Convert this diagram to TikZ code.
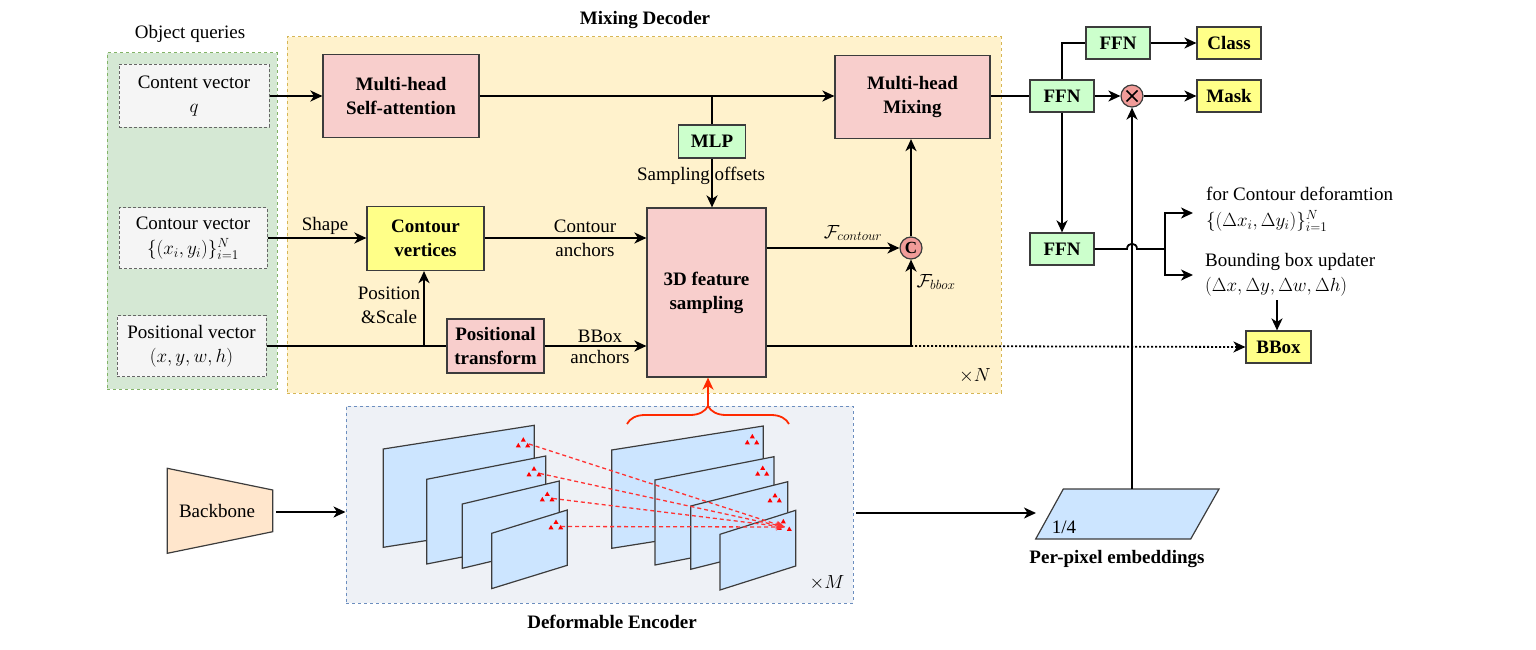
\RequirePackage{fix-cm}
\documentclass[tikz,border=0pt]{standalone}
\usepackage{fontspec}
\setmainfont{Liberation Serif}
\usetikzlibrary{arrows.meta,decorations.pathreplacing,calc}
\definecolor{boxline}{HTML}{3C3C3C}
\definecolor{gfill}{HTML}{D5E8D4}
\definecolor{gline}{HTML}{82B366}
\definecolor{yfill}{HTML}{FFF2CC}
\definecolor{yline}{HTML}{D6B656}
\definecolor{efill}{HTML}{EEF1F6}
\definecolor{bline}{HTML}{6C8EBF}
\definecolor{qfill}{HTML}{F5F5F5}
\definecolor{qline}{HTML}{666666}
\definecolor{pinkfill}{HTML}{F8CECC}
\definecolor{yelfill}{HTML}{FFFF88}
\definecolor{grnfill}{HTML}{CCFFCC}
\definecolor{circfill}{HTML}{F19C99}
\definecolor{mapfill}{HTML}{CCE5FF}
\definecolor{bbfill}{HTML}{FFE6CC}
\definecolor{redc}{HTML}{FF2A00}
\definecolor{reddash}{HTML}{FF3333}
\newcommand\myfs{\fontsize{19}{24}\selectfont}
\newcommand\redtri[2]{\fill[red] (#1,#2) ++(0,-2.8) -- ++(2.5,4.4) -- ++(-5,0) -- cycle;}
\tikzset{
  lbl/.style={font=\myfs, inner sep=0pt, align=center},
  blbl/.style={font=\myfs\bfseries, inner sep=0pt, align=center},
  sbox/.style={draw=boxline, line width=1.2pt, inner sep=0pt, align=center, font=\myfs\bfseries},
  pinkbox/.style={sbox, fill=pinkfill},
  yelbox/.style={sbox, fill=yelfill},
  grnbox/.style={sbox, fill=grnfill},
  qbox/.style={draw=qline, fill=qfill, dash pattern=on 3pt off 2pt, line width=1pt, inner sep=0pt, align=center, font=\myfs},
  panel/.style={line width=1pt, dash pattern=on 3pt off 3pt, inner sep=0pt},
  arr/.style={line width=1.8pt, -{Stealth[length=12pt,width=11pt,inset=3.5pt]}},
  ln/.style={line width=1.8pt},
  fmap/.style={draw=boxline, fill=mapfill, line width=1.2pt},
  rarr/.style={draw=reddash, dash pattern=on 4pt off 3pt, line width=1.3pt, -{Stealth[length=9pt,width=7pt]}},
  pcirc/.style={circle, draw=boxline, fill=circfill, line width=1.2pt, minimum size=22pt, inner sep=0pt},
}
\begin{document}
\begin{tikzpicture}[x=1pt,y=-1pt]
\useasboundingbox (0,0) rectangle (1536,650);
% panels
\node[panel, draw=gline, fill=gfill, minimum width=170pt, minimum height=336pt] (oqp) at (192,221) {};
\node[panel, draw=yline, fill=yfill, minimum width=714pt, minimum height=356pt] (mdp) at (644,215) {};
\node[panel, draw=bline, fill=efill, minimum width=507pt, minimum height=197pt] (enc) at (599.5,504.5) {};
\node[lbl] (oqt) at (190,34) {Object queries};
\node[blbl] (mdt) at (645,20) {Mixing Decoder};
\node[blbl] (enct) at (612,622) {Deformable Encoder};
\node[lbl] (xn) at (975,376) {$\times N$};
\node[lbl] (xm) at (827,583) {$\times M$};
% query vectors
\node[qbox, minimum width=150pt, minimum height=63pt] (content) at (194,96) {Content vector\\$q$};
\node[qbox, minimum width=148pt, minimum height=61pt] (contour) at (193,238) {Contour vector\\[1pt]$\{(x_i,y_i)\}_{i=1}^{N}$};
\node[qbox, minimum width=149pt, minimum height=61pt] (posv) at (191.5,346) {Positional vector\\$(x,y,w,h)$};
% decoder blocks
\node[pinkbox, minimum width=156pt, minimum height=83pt] (mhsa) at (401,96) {Multi-head\\Self-attention};
\node[pinkbox, minimum width=155pt, minimum height=83pt] (mhm) at (912.5,97) {Multi-head\\Mixing};
\node[grnbox, minimum width=67pt, minimum height=33pt] (mlp) at (712,141.5) {MLP};
\node[pinkbox, minimum width=119pt, minimum height=169pt] (fs) at (706.5,292.5) {3D feature\\sampling};
\node[yelbox, minimum width=117pt, minimum height=64pt] (cvert) at (425.5,238.5) {Contour\\vertices};
\node[pinkbox, minimum width=97pt, minimum height=54pt] (pt) at (495.5,346) {Positional\\transform};
\node[pcirc, font=\fontsize{17}{17}\selectfont\bfseries] (cat) at (911,248) {C};
% decoder connectors
\draw[arr] (content.east) -- (content.east -| mhsa.west);
\coordinate (sp) at (712,96);
\draw[arr] (mhsa.east) -- (mhsa.east -| mhm.west);
\draw[ln] (sp) -- (mlp.north);
\draw[arr] (mlp.south) -- (mlp.south |- fs.north);
\node[lbl] (soff) at (701,176) {Sampling offsets};
\draw[arr] (contour.east) -- (contour.east -| cvert.west);
\node[lbl] (shape) at (325,226) {Shape};
\draw[ln] (posv.east) -- (pt.west);
\coordinate (pbr) at (424,346);
\draw[arr] (pbr) -- (pbr |- cvert.south);
\node[lbl] (possc) at (389,305) {Position\\\&Scale};
\draw[arr] (cvert.east |- contour.east) -- (contour.east -| fs.west);
\node[lbl] (ca1) at (585,226) {Contour};
\node[lbl] (ca2) at (585,250) {anchors};
\draw[arr] (pt.east) -- (pt.east -| fs.west);
\node[lbl] (ba1) at (600,336) {BBox};
\node[lbl] (ba2) at (600,357) {anchors};
\draw[arr] (fs.east |- cat.west) -- (cat.west);
\coordinate (fb) at (911,346);
\draw[ln] (fs.east |- fb) -- (fb);
\draw[arr] (fb) -- (cat.south);
\draw[arr] (cat.north) -- (cat.north |- mhm.south);
\node[lbl] (fcl) at (853,233) {$\mathcal{F}_{contour}$};
\node[lbl] (fbl) at (936,282) {$\mathcal{F}_{bbox}$};
% heads
\node[grnbox, minimum width=64pt, minimum height=32pt] (ffn1) at (1062,96) {FFN};
\node[grnbox, minimum width=64pt, minimum height=32pt] (ffnt) at (1118,43) {FFN};
\node[grnbox, minimum width=64pt, minimum height=32pt] (ffn2) at (1062,249) {FFN};
\node[yelbox, minimum width=64pt, minimum height=32pt] (cls) at (1229,43) {Class};
\node[yelbox, minimum width=64pt, minimum height=32pt] (mask) at (1229,96) {Mask};
\node[yelbox, minimum width=65pt, minimum height=32pt] (bbox) at (1278.5,347) {BBox};
\node[pcirc] (mul) at (1132,96) {};
\draw[line width=1.6pt] ($(mul.center)+(-5.5,-5.5)$) -- ($(mul.center)+(5.5,5.5)$);
\draw[line width=1.6pt] ($(mul.center)+(-5.5,5.5)$) -- ($(mul.center)+(5.5,-5.5)$);
\draw[arr, dash pattern=on 2pt off 2pt] (fb) -- (bbox.west);
\draw[ln] (mhm.east |- ffn1.west) -- (ffn1.west);
\draw[ln] (ffn1.north) |- (ffnt.west);
\draw[arr] (ffnt.east) -- (cls.west);
\draw[arr] (ffn1.east) -- (mul.west);
\draw[arr] (mul.east) -- (mask.west);
\draw[arr] (ffn1.south) -- (ffn2.north);
\coordinate (hop1) at (1127,249);
\coordinate (hop2) at (1137,249);
\coordinate (br) at (1165,249);
\coordinate (o1) at (1193,213);
\coordinate (o2) at (1193,275);
\draw[ln] (ffn2.east) -- (hop1) .. controls (1127,242) and (1137,242) .. (hop2) -- (br);
\draw[arr] (br) |- (o1);
\draw[arr] (br) |- (o2);
\node[lbl, anchor=west] (cd1) at (1206,194) {for Contour deforamtion};
\node[lbl, anchor=west] (cd2) at (1206,221) {$\{(\Delta x_i,\Delta y_i)\}_{i=1}^{N}$};
\node[lbl, anchor=west] (bu1) at (1205,262) {Bounding box updater};
\node[lbl, anchor=west] (bu2) at (1205,287) {$(\Delta x,\Delta y,\Delta w,\Delta h)$};
\coordinate (bbu) at (1277,300);
\draw[arr] (bbu) -- (bbu |- bbox.north);
% per-pixel embeddings
\draw[fmap] (1035.7,539) -- (1063.3,489) -- (1219,489) -- (1190.7,539) -- cycle;
\coordinate (pptop) at (1132,489);
\coordinate (ppin) at (1036,513);
\node[lbl] (q4) at (1064,527) {1/4};
\node[blbl] (ppl) at (1117,559) {Per-pixel embeddings};
\draw[arr] (pptop) -- (mul.south);
% backbone
\draw[draw=boxline, fill=bbfill, line width=1.2pt] (167.3,468.3) -- (272.7,490) -- (272.7,531.7) -- (167.3,553.3) -- cycle;
\node[lbl] (bb) at (217,511) {Backbone};
\coordinate (bbe) at (276,512);
\draw[arr] (bbe) -- (enc.west |- bbe);
\coordinate (ence) at (856,513);
\draw[arr] (ence) -- (ppin);
% feature maps left
\draw[fmap] (383.3,449) -- (534.3,425.3) -- (534.3,523.6) -- (383.3,547.3) -- cycle;
\draw[fmap] (426.7,479.3) -- (545.7,456) -- (545.7,540.7) -- (426.7,564) -- cycle;
\draw[fmap] (462.3,504) -- (559.3,481) -- (559.3,545.3) -- (462.3,568.3) -- cycle;
\draw[fmap] (491.7,533.3) -- (567.3,510) -- (567.3,565.3) -- (491.7,588.6) -- cycle;
% feature maps right
\draw[fmap] (611.7,450) -- (763.3,426) -- (763.3,524.3) -- (611.7,548.3) -- cycle;
\draw[fmap] (655,480) -- (774,456.7) -- (774,541.7) -- (655,565) -- cycle;
\draw[fmap] (690.7,506) -- (787.7,481.7) -- (787.7,545) -- (690.7,569.3) -- cycle;
\draw[fmap] (720,534.3) -- (795.7,510.3) -- (795.7,566) -- (720,590) -- cycle;
% red sampling points
\redtri{523.3}{440}\redtri{518.3}{445.7}\redtri{527.7}{445.7}
\redtri{534}{469}\redtri{529}{474.7}\redtri{539}{474.7}
\redtri{547.3}{494.3}\redtri{542.3}{499.7}\redtri{552}{499.7}
\redtri{556}{522.3}\redtri{551}{527.7}\redtri{560.7}{527.7}
\redtri{752.3}{436.7}\redtri{747.3}{442.7}\redtri{756.7}{442.7}
\redtri{762.7}{468.3}\redtri{757.7}{474}\redtri{766.7}{474}
\redtri{775}{495.7}\redtri{770}{500.7}\redtri{779.3}{500.7}
\redtri{783.3}{521.7}\redtri{779.3}{528.3}\redtri{789.3}{529.3}
\coordinate (tgt) at (785,527);
\coordinate (s1) at (529,444);
\coordinate (s2) at (540,473.5);
\coordinate (s3) at (553,498.5);
\coordinate (s4) at (561,526.5);
\draw[rarr] (s1) -- (tgt);
\draw[rarr] (s2) -- (tgt);
\draw[rarr] (s3) -- (tgt);
\draw[rarr] (s4) -- (tgt);
% brace and arrow to sampling
\draw[redc, line width=1.8pt, decorate, decoration={brace, amplitude=18pt}] (627,424) -- (789,424);
\coordinate (btip) at (708,406);
\draw[redc, line width=1.8pt, -{Stealth[length=12pt,width=11pt,inset=3.5pt]}] (btip) -- (btip |- fs.south);
\end{tikzpicture}
\end{document}
